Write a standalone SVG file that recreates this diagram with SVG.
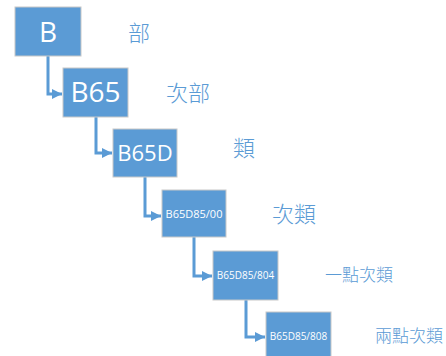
<svg xmlns="http://www.w3.org/2000/svg" width="446" height="356" viewBox="0 0 446 356">
<style>
.box{fill:#5b9bd5;stroke:#c8c8c8;stroke-width:1}
.t{fill:#fff;font-family:"Open Sans","Noto Sans",sans-serif;text-anchor:middle}
.lbl{fill:#5b9bd5;font-family:"Noto Sans CJK TC","Noto Sans CJK SC",sans-serif;font-weight:300}
.c{fill:none;stroke:#5b9bd5;stroke-width:3}
</style>
<defs>
<marker id="ah" markerUnits="userSpaceOnUse" markerWidth="10" markerHeight="10" viewBox="0 0 10 10" refX="10" refY="5" orient="auto">
<path d="M0,0 L10,5 L0,10 Z" fill="#5b9bd5"/>
</marker>
</defs>
<rect width="446" height="356" fill="#fff"/>
<g id="connectors">
<path class="c" d="M48,56 V94 H62" marker-end="url(#ah)"/>
<path class="c" d="M96,117 V153 H112" marker-end="url(#ah)"/>
<path class="c" d="M145,177 V216 H161" marker-end="url(#ah)"/>
<path class="c" d="M194,237 V276 H212" marker-end="url(#ah)"/>
<path class="c" d="M246,300 V337 H265" marker-end="url(#ah)"/>
</g>
<g id="n1"><rect class="box" x="15" y="7" width="66" height="49"/><text class="t" x="48" y="42" font-size="28">B</text></g>
<g id="n2"><rect class="box" x="63" y="68" width="65" height="49"/><text class="t" x="95.5" y="102" font-size="28">B65</text></g>
<g id="n3"><rect class="box" x="113" y="129" width="64" height="48"/><text class="t" x="145" y="161" font-size="22">B65D</text></g>
<g id="n4"><rect class="box" x="162" y="190" width="64" height="47"/><text class="t" x="194" y="218" font-size="11">B65D85/00</text></g>
<g id="n5"><rect class="box" x="213" y="251" width="65" height="49"/><text class="t" x="245.5" y="279" font-size="10">B65D85/804</text></g>
<g id="n6"><rect class="box" x="266" y="312" width="65" height="49"/><text class="t" x="298.5" y="340" font-size="10">B65D85/808</text></g>
<g id="labels">
<text class="lbl" x="128" y="41" font-size="22">部</text>
<text class="lbl" x="166" y="101" font-size="22">次部</text>
<text class="lbl" x="233" y="156" font-size="22">類</text>
<text class="lbl" x="272" y="222" font-size="22">次類</text>
<text class="lbl" x="325" y="281" font-size="17">一點次類</text>
<text class="lbl" x="375" y="342" font-size="17">兩點次類</text>
</g>
</svg>
